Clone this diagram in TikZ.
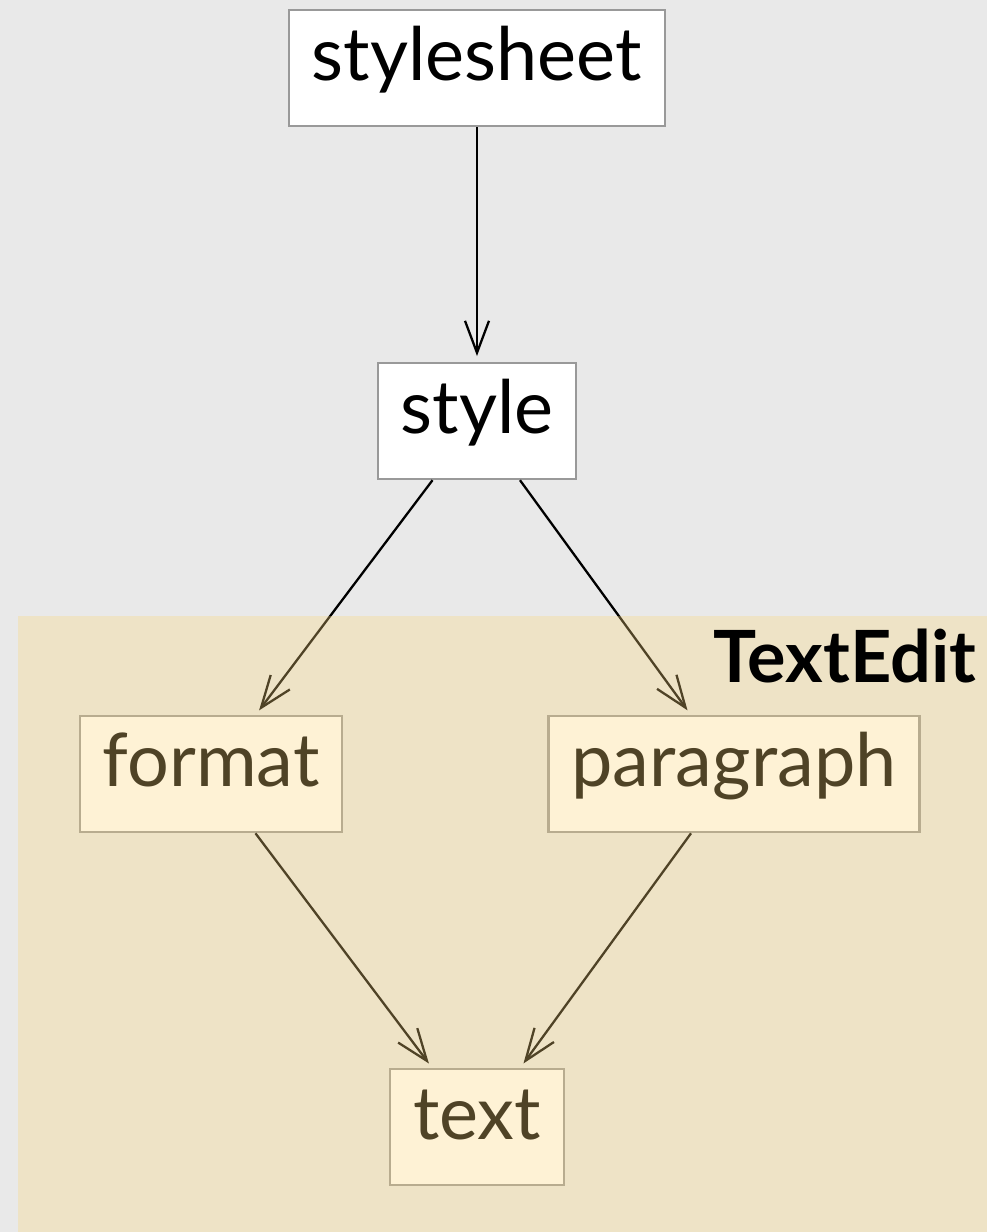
\documentclass[tikz,border=0pt]{standalone}
\usepackage{fontspec}
\setmainfont{Lato}
\usepackage{tikz}
\usetikzlibrary{arrows.meta,positioning}

\definecolor{pagebg}{HTML}{E9E9E9}
\definecolor{boxline}{HTML}{999999}
\definecolor{clustertint}{RGB}{252,214,124}

\begin{document}
\begin{tikzpicture}[
    x=1mm, y=1mm,
    node distance=2.35cm,
    box/.style={draw=boxline, line width=0.6pt, fill=white, inner xsep=2.3mm, inner ysep=0pt,
        text height=7mm, text depth=4.6mm, font=\fontsize{21}{25}\selectfont},
    arrow/.style={-{Straight Barb[length=3.2mm, width=2.4mm]}, line width=0.65pt, shorten >=0.6mm}
]
\fill[pagebg] (0,0) rectangle (98.7,-123.2);
\useasboundingbox (0,0) rectangle (98.7,-123.2);

\node[box] (stylesheet) at (47.7,-6.8) {stylesheet};
\node[box, below=of stylesheet] (style) {style};
\node[box, below=of style, xshift=-26.6mm] (format) {format};
\node[box, below=of style, xshift=25.7mm] (paragraph) {paragraph};
\node[box, below=of format, xshift=26.6mm] (text) {text};

\draw[arrow] (stylesheet) -- (style);
\draw[arrow] (style) -- (format);
\draw[arrow] (style) -- (paragraph);
\draw[arrow] (format) -- (text);
\draw[arrow] (paragraph) -- (text);

% TextEdit cluster
\fill[clustertint, fill opacity=0.313] (1.8,-61.6) rectangle (98.7,-123.2);
\node[anchor=base east, font=\fontsize{20.5}{24}\selectfont\bfseries, inner sep=0pt] (textedit) at (97.7,-68.2) {TextEdit};
\end{tikzpicture}
\end{document}
